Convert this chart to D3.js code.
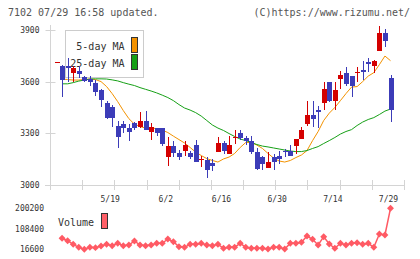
<!DOCTYPE html>
<html><head><meta charset="utf-8">
<script src="https://cdn.jsdelivr.net/npm/d3@7"></script>
<style>
body{margin:0;background:#fff}
svg text{font-family:"DejaVu Sans Mono",monospace}
</style></head><body>
<script>
// daily candles 5/1 - 7/29
const dates = ["5/1","5/2","5/7","5/8","5/9","5/12","5/13","5/14","5/15","5/16",
  "5/19","5/20","5/21","5/22","5/23","5/26","5/27","5/28","5/29","5/30",
  "6/2","6/3","6/4","6/5","6/6","6/9","6/10","6/11","6/12","6/13",
  "6/16","6/17","6/18","6/19","6/20","6/23","6/24","6/25","6/26","6/27",
  "6/30","7/1","7/2","7/3","7/4","7/7","7/8","7/9","7/10","7/11",
  "7/14","7/15","7/16","7/17","7/18","7/22","7/23","7/24","7/25","7/28","7/29"];
const open  = [3715,3693,3690,3648,3664,3629,3616,3593,3552,3474,3449,3344,3350,3330,3357,3338,3373,3305,3330,3330,
  3163,3227,3183,3194,3183,3233,3148,3144,3124,3192,3240,3175,3272,3301,3272,3256,3192,3159,3097,3163,
  3169,3198,3198,3223,3266,3350,3408,3433,3478,3600,3489,3616,3648,3635,3648,3668,3716,3693,3781,3881,3621];
const high  = [3716,3695,3736,3693,3693,3634,3635,3610,3556,3489,3466,3369,3369,3354,3363,3421,3427,3360,3332,3332,
  3276,3256,3202,3256,3198,3262,3169,3159,3150,3275,3252,3285,3315,3315,3280,3280,3210,3169,3188,3179,
  3194,3208,3231,3266,3338,3485,3485,3460,3600,3600,3596,3664,3687,3635,3683,3718,3738,3726,3926,3907,3641];
const low   = [3715,3508,3596,3596,3622,3596,3577,3517,3450,3383,3334,3214,3299,3252,3319,3330,3319,3260,3285,3225,
  3105,3163,3140,3169,3150,3130,3100,3039,3077,3187,3175,3175,3237,3260,3233,3175,3085,3087,3097,3085,
  3120,3159,3169,3179,3266,3344,3338,3330,3435,3480,3437,3557,3573,3508,3596,3610,3655,3648,3776,3800,3363];
const close = [3716,3612,3680,3677,3645,3606,3600,3540,3493,3389,3390,3276,3330,3305,3330,3373,3320,3334,3299,3237,
  3227,3181,3160,3233,3160,3130,3150,3082,3105,3240,3194,3233,3277,3272,3252,3188,3091,3117,3130,3130,
  3146,3188,3169,3266,3318,3408,3379,3428,3559,3489,3551,3641,3586,3577,3658,3655,3703,3718,3881,3835,3435];
const ma5  = [null,3615,3612,3609,3609,3612,3615,3612,3600,3571,3530,3483,3431,3384,3352,3338,3329,3329,3326,3317,
  3303,3282,3262,3242,3216,3189,3169,3151,3140,3131,3149,3160,3181,3216,3245,3245,3230,3210,3181,3154,
  3137,3131,3140,3157,3172,3198,3256,3309,3373,3416,3449,3489,3530,3568,3571,3600,3632,3652,3699,3749,3722];
const ma25 = [null,3587,3587,3594,3603,3609,3615,3616,3616,3615,3610,3604,3594,3585,3577,3565,3555,3545,3534,3521,
  3507,3489,3466,3446,3434,3419,3399,3373,3347,3329,3315,3297,3280,3265,3256,3245,3233,3224,3219,3213,
  3207,3201,3195,3192,3192,3198,3210,3221,3239,3256,3274,3294,3309,3320,3344,3364,3379,3390,3408,3428,3440];
const volume = [null,66000,55000,39000,25600,16600,25600,24000,31400,39000,32700,43500,32700,35900,53800,35900,32700,35900,43500,43500,
  62700,50600,28200,25600,39000,39000,43500,35900,32700,39000,21100,25600,25600,43500,25600,21100,21100,21100,17800,25600,
  25600,17800,43500,43500,48000,76200,61400,35900,73000,40300,21100,43500,35900,43500,46200,39000,43500,25600,85100,80600,200200];
const priceTicks = [3000,3300,3600,3900];
const dateLabels = ["5/19","6/2","6/16","6/30","7/14","7/29"];

const colUp = "#d40000", colDown = "#3c3cb8";
const colMA5 = "#f39200", colMA25 = "#16a016", colVol = "#ff5a64", axisCol = "#d4d4d4";

const rows = dates.map((d,i) => ({date:d, o:open[i], h:high[i], l:low[i], c:close[i], m5:ma5[i], m25:ma25[i], v:volume[i]}));

const svg = d3.select("body").append("svg")
    .attr("width", 420)
    .attr("height", 259)
    .style("display","block");

const x = d3.scalePoint().domain(dates).range([56.5, 390.5]);
const y = d3.scaleLinear().domain([3000, 3930]).range([184.5, 25]);
const yv = d3.scaleLinear().domain(d3.extent(volume.filter(v => v != null))).range([249.3, 208.3]);
const grid = d3.scaleLinear().domain([0, 11]).range([50, 404]);
const px = d => Math.round(x(d));

// header
svg.append("text").attr("x", 8).attr("y", 16).attr("font-size", 10).attr("fill", "#555")
    .text("7102 07/29 16:58 updated.");
svg.append("text").attr("x", 410).attr("y", 16).attr("font-size", 10).attr("fill", "#555")
    .attr("text-anchor", "end").text("(C)https://www.rizumu.net/");

// axes frame
svg.append("line").attr("x1", 50.5).attr("x2", 50.5).attr("y1", 25).attr("y2", 190)
    .attr("stroke", axisCol);
svg.append("line").attr("x1", 45).attr("x2", 405).attr("y1", 185.5).attr("y2", 185.5)
    .attr("stroke", axisCol);

svg.append("g").selectAll("line")
    .data(grid.ticks(11))
    .join("line")
    .attr("x1", d => Math.round(grid(d)) + 0.5).attr("x2", d => Math.round(grid(d)) + 0.5)
    .attr("y1", 180).attr("y2", 190)
    .attr("stroke", axisCol);

const yAxis = svg.append("g")
    .attr("transform", "translate(50.5,0)")
    .call(d3.axisLeft(y).tickValues(priceTicks).tickFormat(d3.format("d")).tickSize(5).tickPadding(6));
yAxis.select(".domain").remove();
yAxis.selectAll("line").attr("x1", 5).attr("stroke", axisCol);
yAxis.selectAll("text").attr("font-size", 8).attr("fill", "#333").style("font-family", "DejaVu Sans Mono");
yAxis.selectAll(".tick").attr("transform", d => "translate(0," + (Math.round(y(d)) + 0.5) + ")");

svg.append("g").selectAll("text")
    .data(dateLabels)
    .join("text")
    .attr("x", d => x(d) - 2)
    .attr("y", 201.5)
    .attr("text-anchor", "middle")
    .attr("font-size", 8)
    .attr("fill", "#333")
    .text(d => d);

// legend (candles sit over it)
const leg = svg.append("g");
leg.append("rect").attr("x", 65.5).attr("y", 30.5).attr("width", 78).attr("height", 47)
    .attr("fill", "#fff").attr("stroke", "#ccc");
[["5-day MA", colMA5, 50, 37.5], ["25-day MA", colMA25, 66.5, 54.5]].forEach(l => {
    leg.append("text").attr("x", 124.5).attr("y", l[2]).attr("text-anchor", "end")
        .attr("font-size", 10).attr("fill", "#333").text(l[0]);
    leg.append("rect").attr("x", 131.5).attr("y", l[3]).attr("width", 6).attr("height", 15)
        .attr("fill", l[1]).attr("stroke", "#333");
});

// moving averages
const ma = key => d3.line().defined(d => d[key] != null).x(d => x(d.date)).y(d => y(d[key]));
svg.append("path").datum(rows).attr("d", ma("m5")).attr("fill", "none").attr("stroke", colMA5).attr("stroke-width", 1);
svg.append("path").datum(rows).attr("d", ma("m25")).attr("fill", "none").attr("stroke", colMA25).attr("stroke-width", 1);

// candles
const candle = svg.append("g").attr("shape-rendering", "crispEdges")
    .selectAll("g").data(rows).join("g");
candle.append("line")
    .attr("x1", d => px(d.date) + 0.5).attr("x2", d => px(d.date) + 0.5)
    .attr("y1", d => y(d.h)).attr("y2", d => y(d.l))
    .attr("stroke", d => d.c >= d.o ? colUp : colDown);
candle.append("rect")
    .attr("x", d => px(d.date) - 2)
    .attr("width", 5)
    .attr("y", d => y(Math.max(d.o, d.c)))
    .attr("height", d => Math.max(1.5, Math.abs(y(d.o) - y(d.c))))
    .attr("fill", d => d.c >= d.o ? colUp : colDown);

// volume panel
const vAxis = svg.append("g")
    .attr("transform", "translate(44,0)")
    .call(d3.axisLeft(yv).tickValues([yv.domain()[0], d3.mean(yv.domain()), yv.domain()[1]])
        .tickFormat(d3.format("d")).tickSize(0).tickPadding(0));
vAxis.select(".domain").remove();
vAxis.selectAll("text").attr("font-size", 8).attr("fill", "#333").style("font-family", "DejaVu Sans Mono");

svg.append("text").attr("x", 58).attr("y", 226).attr("font-size", 10).attr("fill", "#333").text("Volume");
svg.append("rect").attr("x", 101.5).attr("y", 213.5).attr("width", 6).attr("height", 15)
    .attr("fill", "#ff6068").attr("stroke", "#333");

const vRows = rows.filter(d => d.v != null);
svg.append("path").datum(vRows)
    .attr("d", d3.line().x(d => x(d.date)).y(d => yv(d.v)))
    .attr("fill", "none").attr("stroke", colVol).attr("stroke-width", 1.5);
svg.append("g").selectAll("path")
    .data(vRows)
    .join("path")
    .attr("d", d3.symbol(d3.symbolSquare, 24))
    .attr("transform", d => "translate(" + x(d.date) + "," + yv(d.v) + ") rotate(45)")
    .attr("fill", colVol);
</script>
</body></html>
